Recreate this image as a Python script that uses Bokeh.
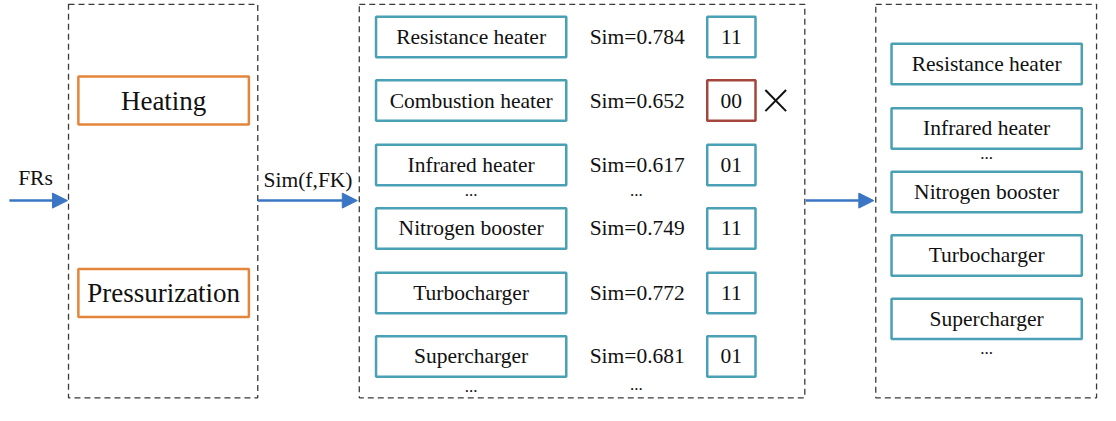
from bokeh.plotting import figure
from bokeh.models import Range1d, Arrow, NormalHead
from bokeh.core.properties import value
from bokeh.embed import file_html
from bokeh.resources import INLINE

# ---- data ----
input_label = "FRs"
sim_label = "Sim(f,FK)"
categories = ["Heating", "Pressurization"]
candidates = ["Resistance heater", "Combustion heater", "Infrared heater",
              "Nitrogen booster", "Turbocharger", "Supercharger"]
sim_values = [0.784, 0.652, 0.617, 0.749, 0.772, 0.681]
codes = ["11", "00", "01", "11", "11", "01"]
selected = ["Resistance heater", "Infrared heater", "Nitrogen booster",
            "Turbocharger", "Supercharger"]

# ---- layout (reference pixel coordinates) ----
FONT = value("Liberation Serif")
BLUE = "#3a76c4"
TEAL = "#4aa0b4"
ORANGE = "#e3853a"
RED = "#a5463c"
DASH = "#3a3a3a"
FS = "21.5px"

p = figure(width=1100, height=405, output_backend="svg", toolbar_location=None,
           x_range=Range1d(0, 1116), y_range=Range1d(421, 0), min_border=0)
p.axis.visible = False
p.grid.visible = False
p.outline_line_color = None

# dashed containers
cont_l = [69, 364, 888]
cont_r = [261, 816, 1112]
p.quad(left=cont_l, right=cont_r, top=[4, 4, 4], bottom=[413, 413, 413],
       fill_color=None, line_color=DASH, line_width=1.3, line_dash="6 4")

# category boxes
cat_y = [104, 304]
p.quad(left=[79] * 2, right=[252] * 2, top=[y - 25 for y in cat_y],
       bottom=[y + 25 for y in cat_y], fill_color=None, line_color=ORANGE, line_width=2.5)
p.text(x=[165.5] * 2, y=cat_y, text=categories, text_font=FONT, text_font_size="27px",
       text_align="center", text_baseline="middle", text_color="#111111")

# middle column
mid_y = [38, 104, 171, 237, 304, 370]
p.quad(left=[381] * 6, right=[574] * 6, top=[y - 21 for y in mid_y],
       bottom=[y + 21 for y in mid_y], fill_color=None, line_color=TEAL, line_width=2.5)
p.text(x=[477.5] * 6, y=mid_y, text=candidates, text_font=FONT, text_font_size=FS,
       text_align="center", text_baseline="middle", text_color="#111111")
p.text(x=[646] * 6, y=mid_y, text=["Sim=%.3f" % v for v in sim_values], text_font=FONT,
       text_font_size=FS, text_align="center", text_baseline="middle",
       text_color="#111111")
code_colors = [RED if c == "00" else TEAL for c in codes]
p.quad(left=[717] * 6, right=[766] * 6, top=[y - 21 for y in mid_y],
       bottom=[y + 21 for y in mid_y], fill_color=None, line_color=code_colors, line_width=2.5)
p.text(x=[741.5] * 6, y=mid_y, text=codes, text_font=FONT, text_font_size=FS,
       text_align="center", text_baseline="middle", text_color="#111111")

# cross mark for rejected code
rej = codes.index("00")
yr = mid_y[rej]
p.segment(x0=[776, 776], y0=[yr - 11, yr + 11], x1=[797, 797], y1=[yr + 11, yr - 11],
          line_color="#111111", line_width=2)

# ellipses in middle column
p.text(x=[477.5, 645, 477.5, 645], y=[198, 198, 401, 399], text=["..."] * 4, text_font=FONT,
       text_font_size="17px", text_align="center", text_baseline="middle", text_color="#111111")

# right column
right_y = [66, 133, 199, 265, 331]
p.quad(left=[904] * 5, right=[1097] * 5, top=[y - 21 for y in right_y],
       bottom=[y + 21 for y in right_y], fill_color=None, line_color=TEAL, line_width=2.5)
p.text(x=[1000.5] * 5, y=right_y, text=selected, text_font=FONT, text_font_size=FS,
       text_align="center", text_baseline="middle", text_color="#111111")
p.text(x=[1000.5, 1000.5], y=[159, 362], text=["...", "..."], text_font=FONT,
       text_font_size="17px", text_align="center", text_baseline="middle", text_color="#111111")

# arrows
arrow_y = 208
for xs, xe in [(9, 68), (261, 362), (817, 886)]:
    p.add_layout(Arrow(end=NormalHead(size=15, fill_color=BLUE, line_color=BLUE),
                       x_start=xs, y_start=arrow_y, x_end=xe, y_end=arrow_y,
                       line_color=BLUE, line_width=2.5))

p.text(x=[35.5, 312], y=[185, 187], text=[input_label, sim_label], text_font=FONT,
       text_font_size=FS, text_align="center", text_baseline="middle", text_color="#111111")

open("out.html", "w").write(file_html(p, INLINE))
